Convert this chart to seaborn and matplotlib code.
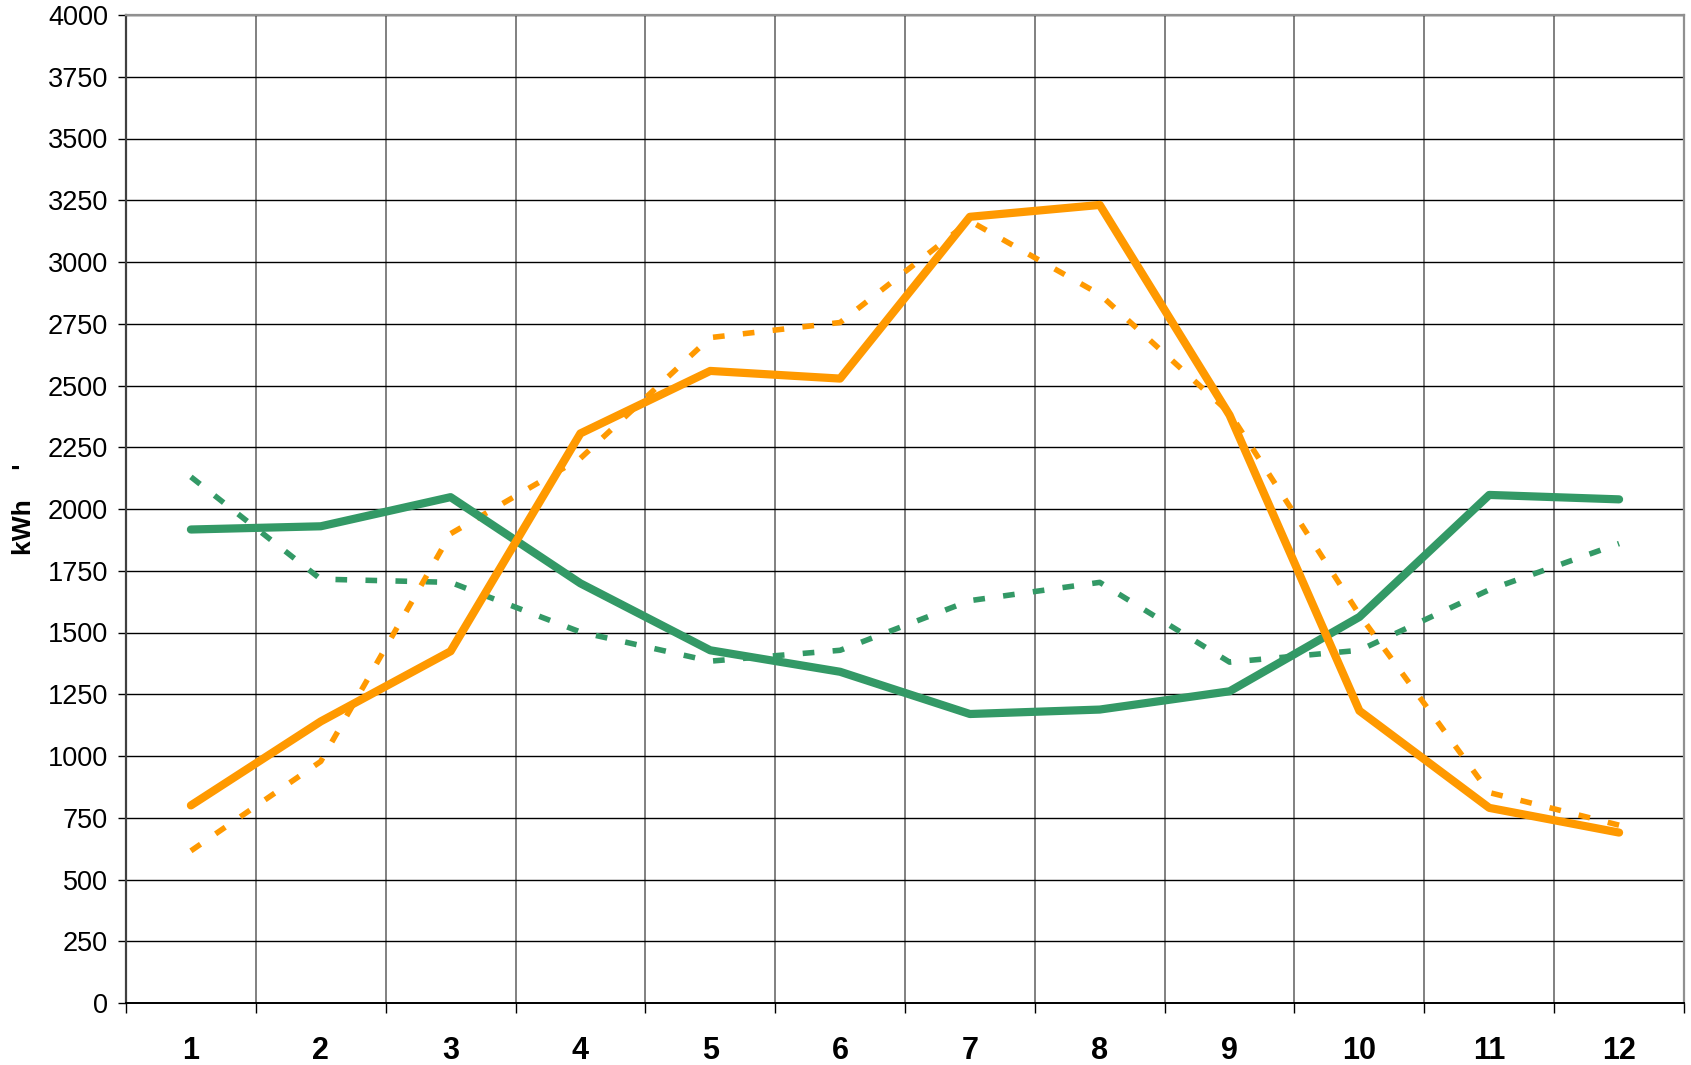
import matplotlib
matplotlib.use("Agg")
import matplotlib.pyplot as plt
from matplotlib.ticker import FixedLocator
import seaborn as sns
import pandas as pd

# Monthly energy figures (kWh)
months = [1, 2, 3, 4, 5, 6, 7, 8, 9, 10, 11, 12]
orange_actual = [800, 1140, 1424, 2306, 2559, 2528, 3183, 3231, 2380, 1183, 790, 690]
green_actual = [1917, 1930, 2048, 1699, 1428, 1341, 1170, 1188, 1262, 1563, 2057, 2039]
orange_ref = [616, 978, 1900, 2205, 2694, 2755, 3166, 2869, 2389, 1572, 852, 720]
green_ref = [2130, 1716, 1703, 1502, 1384, 1428, 1629, 1703, 1380, 1428, 1673, 1860]
y_ticks = list(range(0, 4001, 250))

ORANGE = "#FF9900"
GREEN = "#339966"

sns.set_style("white")
plt.rcParams["font.family"] = ["Liberation Sans", "DejaVu Sans"]
plt.rcParams["text.color"] = "black"
plt.rcParams["xtick.color"] = "black"
plt.rcParams["ytick.color"] = "black"
plt.rcParams["axes.labelcolor"] = "black"

fig = plt.figure(figsize=(16.91, 10.65), dpi=100)
ax = fig.add_axes([126 / 1691, 1 - 1003 / 1065, (1684 - 126) / 1691, (1003 - 15) / 1065])

df = pd.DataFrame({
    "month": months,
    "orange_actual": orange_actual,
    "green_actual": green_actual,
    "orange_ref": orange_ref,
    "green_ref": green_ref,
})

dash = (2.1, 3.3)
sns.lineplot(data=df, x="month", y="green_ref", ax=ax, color=GREEN, lw=4.0,
             zorder=3).lines[-1].set_dashes(dash)
sns.lineplot(data=df, x="month", y="orange_ref", ax=ax, color=ORANGE, lw=4.0,
             zorder=3).lines[-1].set_dashes(dash)
sns.lineplot(data=df, x="month", y="green_actual", ax=ax, color=GREEN, lw=5.9,
             zorder=4)
sns.lineplot(data=df, x="month", y="orange_actual", ax=ax, color=ORANGE, lw=5.9,
             zorder=5)

ax.set_xlim(0.5, 12.5)
ax.set_ylim(0, 4000)

# y axis
ax.yaxis.set_major_locator(FixedLocator(y_ticks))
ax.set_yticklabels([str(v) for v in y_ticks], fontsize=19.5)
ax.tick_params(axis="y", which="major", direction="out", length=6, width=1.0,
               color="black", pad=7, left=True)
ax.grid(axis="y", which="major", color="black", lw=1.0, zorder=1)

# x axis: labels at month centres, ticks/grid on the boundaries
ax.set_xticks(months)
ax.set_xticklabels([str(m) for m in months], fontsize=22, fontweight="bold")
ax.tick_params(axis="x", which="major", length=0, pad=24)
ax.set_xticks([m + 0.5 for m in [0] + months], minor=True)
ax.tick_params(axis="x", which="minor", direction="out", length=7, width=1.0,
               color="black", bottom=True)
ax.grid(axis="x", which="minor", color="#808080", lw=1.4, zorder=1)
ax.grid(axis="x", which="major", visible=False)
ax.set_axisbelow(True)

ax.set_xlabel("")
ax.set_ylabel("kWh    '", fontsize=19, fontweight="bold", labelpad=8)

for side, col, w in [("left", "#404040", 1.6), ("bottom", "black", 1.4),
                     ("top", "#909090", 1.6), ("right", "#909090", 1.6)]:
    ax.spines[side].set_visible(True)
    ax.spines[side].set_color(col)
    ax.spines[side].set_linewidth(w)

fig.savefig("out.png", dpi=100)
